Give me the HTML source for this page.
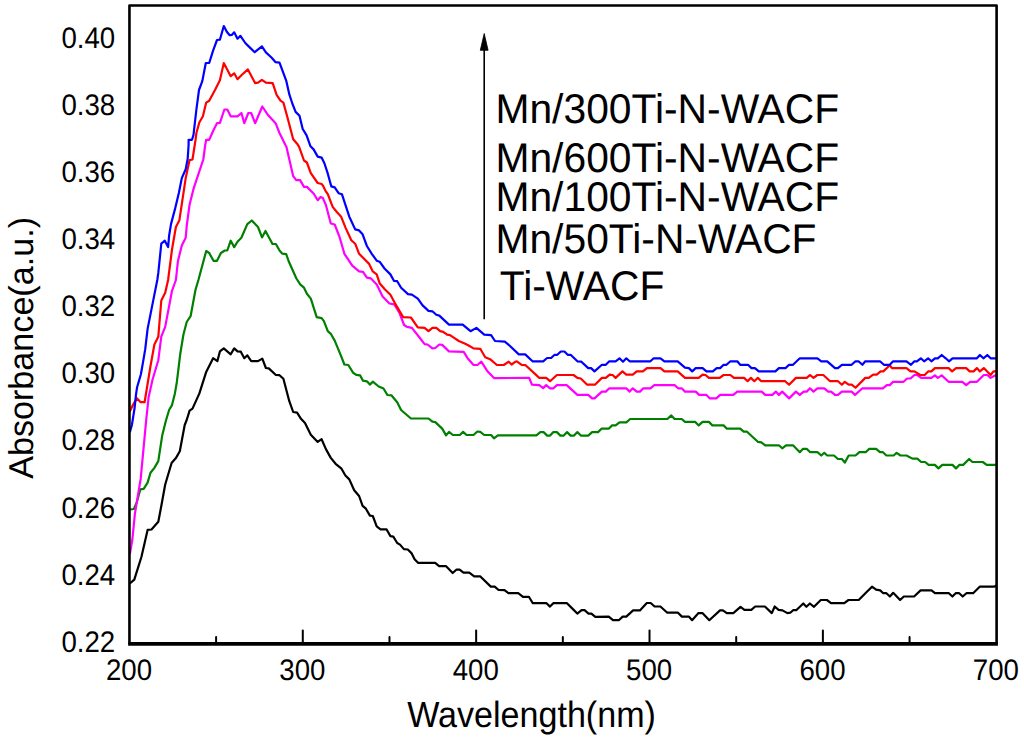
<!DOCTYPE html>
<html><head><meta charset="utf-8"><title>Absorbance chart</title>
<style>
html,body{margin:0;padding:0;background:#fff;}
body{width:1024px;height:742px;overflow:hidden;}
svg{display:block;}
text{text-rendering:geometricPrecision;}
</style></head>
<body>
<svg width="1024" height="742" viewBox="0 0 1024 742">
<rect width="1024" height="742" fill="#fff"/>
<polyline points="130.4,583.0 134.3,579.6 141.4,557.0 147.6,529.9 151.5,529.5 158.3,521.7 161.3,506.0 165.2,484.5 171.6,463.0 175.9,458.1 179.8,451.3 184.7,425.0 186.7,420.0 189.6,410.6 192.5,408.6 199.4,393.4 206.2,371.9 213.1,358.2 217.4,361.1 219.9,351.4 223.8,348.4 230.7,354.3 234.2,348.4 237.5,351.4 240.8,351.7 244.3,358.2 247.3,355.3 251.2,361.1 258.0,361.1 262.3,358.6 265.9,368.0 268.8,368.4 275.6,374.8 279.5,375.2 283.4,378.7 289.3,401.2 293.2,412.0 297.1,412.6 301.0,418.8 305.0,422.9 310.8,434.7 317.7,441.9 321.6,439.2 325.9,449.1 330.8,457.9 335.6,463.8 341.5,468.7 345.4,475.5 349.3,479.4 354.2,490.2 359.1,496.0 362.6,505.8 365.9,508.7 369.9,515.6 372.8,516.0 376.7,526.3 380.6,529.3 386.5,529.3 390.4,536.1 393.3,536.7 397.2,543.0 400.0,544.6 403.9,549.1 407.8,549.5 411.7,553.4 414.6,559.3 418.0,562.8 435.2,562.8 439.1,566.1 445.9,566.1 452.7,573.0 456.6,569.5 459.6,569.6 463.5,572.6 469.3,572.6 474.2,576.3 480.1,576.3 490.8,586.6 494.7,586.6 498.6,590.0 504.5,590.2 508.4,593.1 518.2,593.1 523.0,596.8 528.9,596.8 532.8,603.2 546.5,603.2 550.0,606.6 553.3,603.2 567.0,603.2 571.9,608.1 577.3,613.6 581.6,610.1 584.6,610.1 588.5,613.6 591.4,613.6 595.3,616.9 608.7,616.6 613.0,620.2 618.8,620.2 622.7,616.6 626.3,616.6 633.1,610.4 639.9,610.4 646.8,603.0 650.7,603.0 654.6,606.5 660.4,606.5 667.3,612.7 678.0,612.7 681.9,616.6 688.8,616.6 692.1,620.2 698.5,613.1 702.4,613.1 709.3,620.2 720.0,610.4 722.9,610.4 726.8,613.1 733.3,613.1 740.5,606.9 744.4,609.8 751.3,609.8 755.2,606.5 764.9,606.5 771.8,613.1 774.7,606.5 778.6,609.8 782.5,610.4 787.4,613.1 790.3,612.7 793.1,610.2 796.2,610.2 803.3,603.5 806.4,606.8 809.9,603.5 814.0,606.8 820.8,600.0 826.9,600.0 831.0,603.1 844.3,603.1 848.5,600.0 858.7,600.0 865.9,592.8 872.0,586.7 876.1,589.7 880.2,590.4 883.3,593.2 886.4,593.2 889.9,596.5 893.2,592.8 900.1,600.0 903.8,596.5 914.1,596.5 920.6,590.4 931.5,590.4 935.0,593.2 948.9,593.2 952.4,596.5 955.7,593.2 959.2,593.2 962.7,596.5 966.4,593.2 973.1,593.2 979.7,586.7 994.1,586.7 996.0,585.6" fill="none" stroke="#000000" stroke-width="2.2" stroke-linejoin="round" stroke-linecap="round"/>
<polyline points="130.0,509.5 133.9,509.0 136.8,502.1 140.3,489.4 143.7,488.8 147.6,482.6 150.5,472.8 154.4,467.9 158.3,461.1 162.2,435.6 166.1,420.0 169.1,410.0 172.0,405.1 174.9,393.4 176.9,381.7 180.2,354.3 183.4,334.7 186.7,322.0 190.6,316.2 195.5,289.8 198.4,280.0 206.2,251.0 209.2,253.0 213.5,260.8 217.0,260.8 220.9,253.0 224.8,250.5 227.3,250.5 230.7,240.7 234.2,247.1 237.5,241.7 241.4,237.8 247.3,224.1 251.8,220.5 258.0,227.0 262.0,237.4 265.5,230.9 272.5,244.0 275.9,244.0 279.7,250.8 282.4,253.7 286.2,254.2 288.9,261.8 296.4,278.5 300.2,284.4 304.0,287.7 306.9,293.7 310.8,298.6 316.7,317.1 321.6,318.1 323.9,321.1 327.8,331.2 330.8,333.8 334.7,340.6 339.6,352.3 344.4,364.5 348.3,365.0 353.2,372.9 356.2,374.8 360.1,375.4 363.0,380.7 366.9,381.3 369.9,384.6 372.8,381.7 378.7,386.5 383.5,388.5 387.4,395.0 391.4,395.3 397.2,402.2 401.1,410.0 410.9,418.5 428.5,418.5 432.4,421.7 435.3,422.1 442.2,428.6 446.1,435.4 449.0,431.9 452.9,435.0 459.8,435.0 463.1,431.9 466.6,435.0 473.5,435.0 477.4,431.5 480.3,431.9 484.2,435.0 491.1,435.0 494.0,438.3 497.9,435.3 536.4,435.3 540.3,432.1 543.6,432.1 547.1,435.6 550.1,435.6 553.4,432.1 556.9,432.1 560.4,435.6 563.8,435.6 567.1,432.1 570.6,435.6 574.1,435.6 577.4,432.1 580.8,435.6 588.2,435.6 592.1,432.1 598.0,432.1 601.5,428.7 608.7,428.7 612.1,425.4 615.6,425.4 619.5,422.3 626.3,422.3 630.2,419.0 667.4,419.0 671.3,415.4 674.6,419.0 681.7,419.0 685.0,421.9 695.3,421.9 698.7,425.4 702.6,421.9 708.9,421.9 712.4,425.4 723.6,425.4 726.9,428.7 740.2,428.7 743.7,431.7 747.0,431.7 757.8,441.8 761.3,442.4 765.2,445.3 778.9,445.3 782.2,448.3 786.1,445.3 793.0,445.3 799.8,452.2 802.8,448.9 806.7,448.9 810.2,452.2 817.4,452.2 821.3,455.5 824.3,452.8 827.2,455.5 834.0,455.5 837.9,459.0 841.9,459.0 844.8,462.6 848.7,455.5 855.5,455.5 859.4,452.2 865.7,452.2 869.2,448.9 876.1,448.9 880.0,452.2 882.9,452.2 886.4,455.5 893.7,455.5 896.6,452.8 900.5,455.5 906.5,455.5 912.4,458.6 917.3,458.6 921.2,462.0 925.1,462.0 928.6,464.9 934.9,464.9 938.4,468.4 942.3,464.9 952.5,464.9 956.0,468.4 959.3,464.9 963.2,464.9 969.1,459.0 972.4,462.0 982.8,462.0 986.7,464.9 996.0,464.9" fill="none" stroke="#008000" stroke-width="2.2" stroke-linejoin="round" stroke-linecap="round"/>
<polyline points="130.0,553.2 132.3,540.0 134.9,513.8 140.7,478.7 146.2,420.0 148.6,397.3 152.5,379.7 158.3,360.2 161.3,336.7 165.2,326.9 172.0,290.8 175.9,280.0 177.9,261.2 181.8,245.6 185.7,237.8 186.7,226.0 189.6,204.5 193.5,188.9 203.3,159.5 205.2,145.0 206.2,139.8 209.2,139.8 213.1,131.0 217.0,123.2 219.9,122.8 224.4,109.5 227.3,109.5 230.7,116.3 237.5,116.3 241.4,113.0 244.3,123.2 248.3,113.0 251.2,113.0 255.1,123.2 262.3,106.5 268.2,115.3 275.6,123.2 279.5,133.0 285.4,145.0 286.4,146.8 293.2,176.2 296.2,180.1 300.1,180.1 304.0,186.9 306.9,186.9 313.8,193.8 317.7,200.2 320.5,197.0 322.9,198.1 325.9,205.0 330.8,223.5 334.7,224.5 339.6,237.2 344.4,253.8 352.3,265.6 359.1,271.4 363.0,271.8 366.9,277.7 370.8,278.3 376.7,284.5 382.6,296.6 389.4,303.5 394.3,304.4 399.2,312.3 404.1,325.0 407.0,326.9 411.9,327.9 419.7,337.7 424.6,344.1 427.5,344.5 432.4,348.4 435.3,348.0 439.3,344.5 442.2,344.9 449.0,351.4 463.7,351.9 467.6,358.2 473.5,365.0 477.4,365.0 481.3,361.7 487.2,370.9 494.0,378.1 529.2,377.9 531.9,384.7 539.3,385.1 543.2,388.1 546.2,385.1 550.1,388.3 553.4,388.3 556.9,385.1 566.7,385.1 577.4,394.9 588.2,394.9 592.1,398.4 594.5,398.4 601.9,391.6 605.8,391.6 609.3,388.3 626.3,388.3 629.6,391.6 632.8,388.3 636.7,391.6 640.0,391.6 643.3,388.3 650.4,388.3 654.3,385.1 674.6,385.1 678.1,388.3 681.7,388.3 685.0,391.6 695.7,391.6 699.2,394.9 706.5,394.9 709.9,398.4 716.3,398.4 720.2,394.9 733.3,394.9 737.3,391.6 761.7,391.6 765.2,394.9 772.4,394.9 775.8,391.6 778.9,394.9 782.2,391.6 789.1,398.4 795.9,391.6 799.8,394.9 803.7,391.6 806.7,391.6 810.0,388.3 813.5,391.6 817.4,388.3 824.3,388.3 828.2,391.6 831.1,391.6 835.0,394.9 837.9,394.9 841.9,391.6 851.6,391.6 855.1,394.9 862.4,388.3 882.9,388.3 886.8,385.1 889.8,385.1 893.1,381.8 903.6,381.8 907.1,378.5 910.5,378.5 914.4,375.0 917.3,375.0 921.2,377.9 931.4,377.9 934.9,375.4 937.8,377.9 941.7,375.4 948.6,381.8 962.3,381.8 966.2,385.1 970.1,381.8 976.9,381.8 983.8,375.0 987.3,375.0 990.6,377.9 996.0,375.0" fill="none" stroke="#ff00ff" stroke-width="2.2" stroke-linejoin="round" stroke-linecap="round"/>
<polyline points="130.0,411.0 132.9,405.1 136.8,398.3 140.7,402.2 144.6,402.2 150.5,366.0 154.4,344.5 158.3,336.7 161.3,300.5 165.2,292.7 168.1,280.0 172.0,249.5 175.9,227.0 179.4,220.2 185.7,178.1 189.6,160.1 192.5,159.5 195.5,140.0 196.4,133.0 199.4,122.2 202.9,116.3 206.2,102.6 209.2,100.7 215.0,89.9 219.9,80.2 223.8,63.0 230.7,76.2 234.2,73.3 237.5,79.2 241.4,75.3 247.9,69.4 255.1,83.1 258.0,82.7 261.9,79.8 265.9,82.7 272.7,83.1 276.6,94.8 280.5,100.7 283.4,102.6 287.4,117.3 293.2,139.2 297.1,143.7 299.1,146.8 304.0,160.5 306.9,162.5 310.8,173.2 317.7,183.0 321.6,184.0 322.9,185.4 325.5,190.8 327.8,194.2 332.7,206.9 336.6,211.8 341.1,216.7 345.4,227.4 351.3,240.2 355.2,243.7 359.1,253.8 368.9,263.6 372.8,271.4 376.7,274.4 379.6,283.2 385.0,289.5 390.4,294.7 396.2,305.4 403.1,317.1 410.9,317.5 417.8,327.3 424.6,327.9 428.5,331.2 432.4,327.9 436.3,327.9 440.2,331.2 443.2,331.8 447.1,334.7 450.0,335.1 454.9,338.3 458.8,341.0 464.7,343.5 468.6,345.5 473.5,348.4 480.3,348.8 485.2,357.2 490.1,359.2 496.9,365.0 503.8,365.0 508.7,361.7 511.6,364.5 515.5,361.7 516.8,361.3 521.7,364.8 525.6,365.2 539.3,377.9 546.2,377.9 550.1,381.2 556.9,375.0 573.5,375.0 577.4,377.9 580.8,378.5 587.2,384.7 595.0,384.7 601.9,377.9 605.8,377.9 609.7,374.6 612.6,375.0 615.6,377.9 622.4,371.4 626.3,374.6 632.8,374.6 636.7,371.4 642.9,371.4 646.9,368.1 660.5,368.1 664.4,371.4 677.7,371.4 685.0,377.9 698.7,377.9 702.6,374.6 705.5,375.0 708.9,377.9 719.7,377.9 723.6,375.0 730.4,375.0 733.9,377.9 744.1,377.9 747.6,381.2 750.9,377.9 754.3,381.2 757.8,377.9 761.3,381.2 785.2,381.2 789.1,384.7 795.9,377.9 806.7,377.9 810.0,375.0 813.5,377.9 817.4,375.0 823.3,375.0 830.1,381.2 838.0,381.2 841.9,384.7 844.8,381.8 848.7,384.7 851.6,384.7 855.5,387.7 865.3,377.9 868.8,377.9 873.1,374.6 876.7,374.6 880.6,371.4 883.3,371.4 889.8,365.2 891.9,368.1 906.5,368.1 910.5,371.4 914.4,371.4 920.2,375.0 924.7,375.0 928.1,371.4 931.4,371.4 934.9,368.1 948.6,368.1 952.1,371.4 956.0,368.1 966.2,368.1 969.7,371.4 973.6,371.4 976.9,368.1 979.9,371.4 983.8,368.1 990.6,375.0 993.5,371.4 996.0,371.4" fill="none" stroke="#ff0000" stroke-width="2.2" stroke-linejoin="round" stroke-linecap="round"/>
<polyline points="130.0,431.7 131.9,425.0 134.6,408.0 136.0,394.7 137.1,387.2 140.9,374.2 143.0,362.4 145.2,349.4 147.6,328.9 153.4,299.6 157.3,280.0 158.3,272.9 161.3,243.6 164.8,240.7 168.1,247.1 169.1,235.8 171.0,224.1 174.9,209.4 178.9,192.8 181.8,178.1 185.7,169.3 187.7,158.6 188.6,145.0 188.6,139.8 192.0,139.8 193.5,134.9 196.4,109.5 199.0,90.0 202.3,81.1 205.8,63.0 209.2,63.0 213.0,50.8 217.0,40.0 219.9,39.7 223.8,26.0 226.8,31.7 229.7,35.2 232.0,34.8 234.2,32.3 237.5,38.7 240.4,35.8 245.3,43.0 249.2,46.9 254.7,52.2 261.9,46.3 265.9,52.4 271.7,57.7 275.6,62.2 279.5,62.6 286.2,80.6 289.4,94.7 292.5,104.0 295.6,111.9 299.5,115.8 302.7,129.0 306.6,135.3 310.5,146.3 313.6,149.4 317.7,156.6 321.6,157.6 324.5,163.5 327.8,173.7 331.3,186.4 334.7,187.4 338.6,193.2 341.9,194.2 349.3,216.7 355.2,229.4 359.1,230.4 362.6,234.3 366.9,246.0 371.8,253.8 376.7,260.7 379.6,261.7 384.5,268.5 390.4,274.4 393.9,280.8 397.2,281.2 401.1,287.8 408.0,294.1 411.9,294.7 417.8,298.6 422.6,305.4 428.5,310.9 432.4,311.3 436.3,314.8 439.3,315.6 449.0,324.6 462.7,324.6 470.5,331.2 476.4,327.9 484.2,334.7 491.1,335.1 495.0,341.0 504.8,341.6 510.0,346.0 518.8,354.4 525.2,354.4 532.5,361.3 543.2,361.3 547.1,358.0 551.1,358.0 554.6,354.8 557.3,354.8 560.8,351.5 564.4,351.5 567.7,354.8 570.6,354.8 577.4,361.3 581.4,361.7 588.2,368.1 591.1,368.1 594.5,371.4 601.9,364.8 605.8,364.8 609.3,361.3 615.6,361.3 619.5,358.3 623.0,361.7 626.3,358.3 629.6,361.3 650.4,361.3 653.7,358.3 660.5,358.3 664.4,361.3 677.7,361.3 685.0,367.7 688.9,368.1 692.2,371.4 695.7,368.1 702.6,368.1 706.5,371.4 712.8,371.4 716.7,368.1 720.2,368.1 723.6,364.8 726.5,364.8 730.4,361.3 737.3,361.3 740.2,364.8 748.0,364.8 751.5,368.1 754.9,368.1 758.8,371.4 775.4,371.4 778.9,368.1 785.5,368.1 789.1,364.8 793.0,364.8 799.8,358.3 817.4,358.3 821.3,361.3 827.2,361.3 835.0,368.1 837.9,368.1 841.9,364.8 851.6,364.8 855.5,361.3 858.5,361.3 862.4,364.8 865.3,361.3 880.0,361.3 883.9,364.8 889.8,364.8 893.1,361.3 906.5,361.3 911.0,364.8 914.4,361.3 916.9,361.3 920.8,358.3 924.1,361.3 928.1,358.3 931.4,361.3 934.9,358.3 937.8,358.3 941.7,355.0 945.7,358.3 949.0,361.3 952.5,358.3 976.9,358.3 979.9,355.0 983.4,358.3 987.3,355.0 990.6,358.3 996.0,358.3" fill="none" stroke="#0000ff" stroke-width="2.2" stroke-linejoin="round" stroke-linecap="round"/>
<line x1="216.10" y1="643.5" x2="216.10" y2="636.9" stroke="#000" stroke-width="2" stroke-linecap="round"/>
<line x1="302.79" y1="643.5" x2="302.79" y2="630.6" stroke="#000" stroke-width="2" stroke-linecap="round"/>
<line x1="389.47" y1="643.5" x2="389.47" y2="636.9" stroke="#000" stroke-width="2" stroke-linecap="round"/>
<line x1="476.15" y1="643.5" x2="476.15" y2="630.6" stroke="#000" stroke-width="2" stroke-linecap="round"/>
<line x1="562.84" y1="643.5" x2="562.84" y2="636.9" stroke="#000" stroke-width="2" stroke-linecap="round"/>
<line x1="649.52" y1="643.5" x2="649.52" y2="630.6" stroke="#000" stroke-width="2" stroke-linecap="round"/>
<line x1="736.20" y1="643.5" x2="736.20" y2="636.9" stroke="#000" stroke-width="2" stroke-linecap="round"/>
<line x1="822.89" y1="643.5" x2="822.89" y2="630.6" stroke="#000" stroke-width="2" stroke-linecap="round"/>
<line x1="909.57" y1="643.5" x2="909.57" y2="636.9" stroke="#000" stroke-width="2" stroke-linecap="round"/>
<rect x="129.45" y="5.45" width="867.15" height="637.95" fill="none" stroke="#000" stroke-width="2.6" stroke-linejoin="round"/>
<line x1="128.15" y1="644.1" x2="997.90" y2="644.1" stroke="#000" stroke-width="3.3"/>
<g font-family='"Liberation Sans", sans-serif' font-size="27.65" fill="#000"><text transform="translate(115.2,651.80) scale(1,1.075)" text-anchor="end">0.22</text><text transform="translate(115.2,584.68) scale(1,1.075)" text-anchor="end">0.24</text><text transform="translate(115.2,517.56) scale(1,1.075)" text-anchor="end">0.26</text><text transform="translate(115.2,450.44) scale(1,1.075)" text-anchor="end">0.28</text><text transform="translate(115.2,383.32) scale(1,1.075)" text-anchor="end">0.30</text><text transform="translate(115.2,316.20) scale(1,1.075)" text-anchor="end">0.32</text><text transform="translate(115.2,249.08) scale(1,1.075)" text-anchor="end">0.34</text><text transform="translate(115.2,181.96) scale(1,1.075)" text-anchor="end">0.36</text><text transform="translate(115.2,114.84) scale(1,1.075)" text-anchor="end">0.38</text><text transform="translate(115.2,47.72) scale(1,1.075)" text-anchor="end">0.40</text><text transform="translate(129.02,679.75) scale(1,1.075)" text-anchor="middle">200</text><text transform="translate(302.39,679.75) scale(1,1.075)" text-anchor="middle">300</text><text transform="translate(475.75,679.75) scale(1,1.075)" text-anchor="middle">400</text><text transform="translate(649.12,679.75) scale(1,1.075)" text-anchor="middle">500</text><text transform="translate(822.49,679.75) scale(1,1.075)" text-anchor="middle">600</text><text transform="translate(995.86,679.75) scale(1,1.075)" text-anchor="middle">700</text></g>
<text transform="translate(531.5,726.9) scale(1,1.07)" text-anchor="middle" font-family='"Liberation Sans", sans-serif' font-size="34.1" fill="#000">Wavelength(nm)</text>
<text transform="translate(33.1,347.9) rotate(-90) scale(1,1.01)" text-anchor="middle" font-family='"Liberation Sans", sans-serif' font-size="34.15" fill="#000">Absorbance(a.u.)</text>
<g font-family='"Liberation Sans", sans-serif' font-size="40.8" fill="#000"><text transform="translate(495.45,123.0) scale(1,1.017)">Mn/300Ti-N-WACF</text><text transform="translate(495.45,171.55) scale(1,1.017)">Mn/600Ti-N-WACF</text><text transform="translate(495.45,210.8) scale(1,1.017)">Mn/100Ti-N-WACF</text><text transform="translate(495.45,252.6) scale(1,1.017)">Mn/50Ti-N-WACF</text><text transform="translate(499.8,299.6) scale(1,1.017)">Ti-WACF</text></g>
<line x1="484.2" y1="319.3" x2="484.2" y2="48" stroke="#000" stroke-width="1.6"/>
<polygon points="484.2,33.5 480.3,50.3 488.1,50.3" fill="#000" stroke="#000" stroke-width="0.8" stroke-linejoin="round"/>
</svg>
</body></html>
